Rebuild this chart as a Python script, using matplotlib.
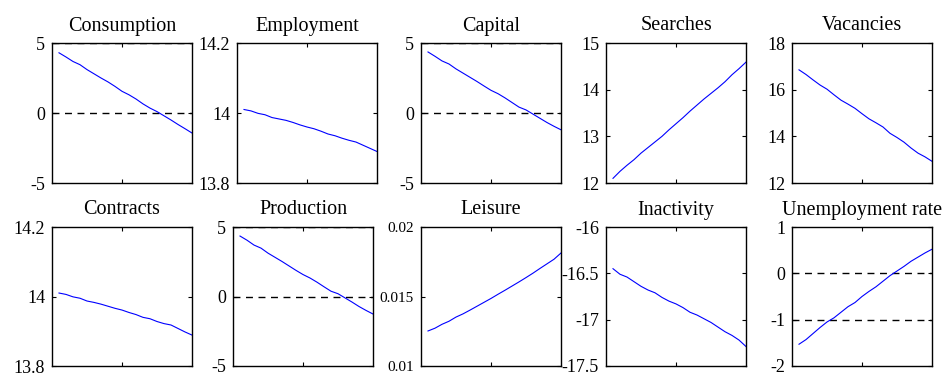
import matplotlib
matplotlib.use("Agg")
import matplotlib.pyplot as plt

plt.rcParams['font.family'] = ['Liberation Serif', 'DejaVu Serif']

periods = list(range(1, 21))

consumption = [4.30, 4.00, 3.68, 3.45, 3.10, 2.80, 2.50, 2.22, 1.90, 1.55,
               1.30, 1.00, 0.65, 0.35, 0.10, -0.20, -0.50, -0.82, -1.12, -1.43]
employment = [14.010, 14.006, 13.999, 13.995, 13.987, 13.983, 13.979, 13.973, 13.966, 13.960,
              13.955, 13.948, 13.940, 13.935, 13.928, 13.922, 13.917, 13.908, 13.899, 13.890]
capital = [4.36, 4.05, 3.72, 3.50, 3.15, 2.85, 2.55, 2.25, 1.93, 1.62,
           1.38, 1.08, 0.75, 0.42, 0.22, -0.08, -0.38, -0.68, -0.95, -1.20]
searches = [12.10, 12.25, 12.38, 12.50, 12.64, 12.76, 12.88, 13.00, 13.14, 13.27,
            13.40, 13.54, 13.67, 13.80, 13.92, 14.04, 14.17, 14.32, 14.45, 14.59]
vacancies = [16.85, 16.65, 16.42, 16.20, 16.02, 15.78, 15.55, 15.38, 15.20, 14.97,
             14.75, 14.58, 14.40, 14.13, 13.95, 13.75, 13.50, 13.28, 13.12, 12.93]
contracts = [14.010, 14.006, 13.999, 13.995, 13.987, 13.983, 13.978, 13.972, 13.966, 13.961,
             13.954, 13.948, 13.940, 13.936, 13.928, 13.922, 13.918, 13.908, 13.898, 13.889]
production = [4.35, 4.05, 3.70, 3.48, 3.12, 2.82, 2.52, 2.20, 1.88, 1.58,
              1.33, 1.03, 0.70, 0.38, 0.20, -0.10, -0.40, -0.72, -1.00, -1.26]
leisure = [0.01252, 0.01272, 0.01300, 0.01322, 0.01352, 0.01375, 0.01402, 0.01430, 0.01458, 0.01486,
           0.01516, 0.01545, 0.01575, 0.01605, 0.01636, 0.01668, 0.01702, 0.01735, 0.01768, 0.01813]
inactivity = [-16.45, -16.51, -16.54, -16.59, -16.64, -16.68, -16.71, -16.76, -16.80, -16.83,
              -16.87, -16.92, -16.95, -16.99, -17.03, -17.08, -17.13, -17.17, -17.22, -17.29]
unemployment = [-1.53, -1.43, -1.30, -1.17, -1.05, -0.96, -0.84, -0.72, -0.63, -0.50,
                -0.39, -0.29, -0.17, -0.05, 0.05, 0.15, 0.26, 0.35, 0.44, 0.52]

# title, series, y limits, y ticks, tick labels, dashed reference levels, tick font size
panels = [
    ("Consumption", consumption, (-5, 5), [-5, 0, 5], ["-5", "0", "5"], [0, 5], 13),
    ("Employment", employment, (13.8, 14.2), [13.8, 14, 14.2], ["13.8", "14", "14.2"], [], 13),
    ("Capital", capital, (-5, 5), [-5, 0, 5], ["-5", "0", "5"], [0, 5], 13),
    ("Searches", searches, (12, 15), [12, 13, 14, 15], ["12", "13", "14", "15"], [], 13),
    ("Vacancies", vacancies, (12, 18), [12, 14, 16, 18], ["12", "14", "16", "18"], [], 13),
    ("Contracts", contracts, (13.8, 14.2), [13.8, 14, 14.2], ["13.8", "14", "14.2"], [], 13),
    ("Production", production, (-5, 5), [-5, 0, 5], ["-5", "0", "5"], [0, 5], 13),
    ("Leisure", leisure, (0.01, 0.02), [0.01, 0.015, 0.02], ["0.01", "0.015", "0.02"], [], 11),
    ("Inactivity", inactivity, (-17.5, -16), [-17.5, -17, -16.5, -16],
     ["-17.5", "-17", "-16.5", "-16"], [], 13),
    ("Unemployment rate", unemployment, (-2, 1), [-2, -1, 0, 1], ["-2", "-1", "0", "1"], [0, -1], 13),
]

W, H = 946, 376
lefts_top = [52, 237, 421, 606, 792]
lefts_bot = [52, 233, 421, 606, 792]

fig = plt.figure(figsize=(9.46, 3.76), dpi=100)

for i, (title, vals, ylim, yt, ytl, refs, fs) in enumerate(panels):
    if i < 5:
        x0, ytop, ybot = lefts_top[i], 43, 183
    else:
        x0, ytop, ybot = lefts_bot[i - 5], 227, 366
    ax = fig.add_axes([x0 / W, 1 - ybot / H, 140 / W, (ybot - ytop) / H])
    for r in refs:
        ax.axhline(r, color='black', lw=1.0, ls=(0, (5, 4)), zorder=1)
    ax.plot(periods, vals, color='#0000ff', lw=0.8, zorder=2)
    ax.set_xlim(0, 20)
    ax.set_ylim(*ylim)
    ax.set_xticks([10])
    ax.set_xticklabels([])
    ax.set_yticks(yt)
    ax.set_yticklabels(ytl, fontsize=fs)
    ax.tick_params(direction='in', top=True, right=True, length=3, width=0.8, pad=5)
    for s in ax.spines.values():
        s.set_linewidth(1.0)
    ax.set_title(title, fontsize=14.5, pad=9)

fig.savefig("out.png", dpi=100)
